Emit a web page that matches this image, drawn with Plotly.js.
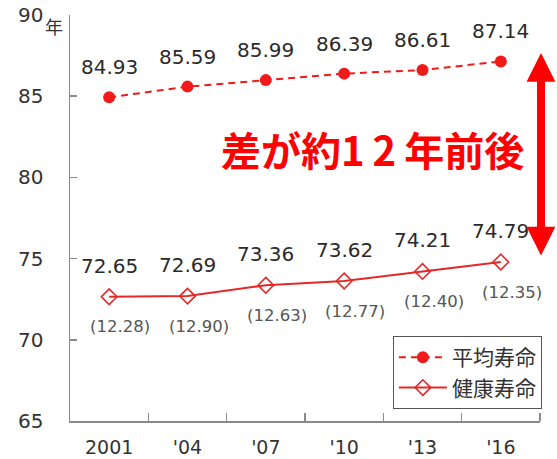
<!DOCTYPE html>
<html>
<head>
<meta charset="utf-8">
<script src="https://cdn.plot.ly/plotly-3.0.1.min.js"></script>
<style>html,body{margin:0;padding:0;background:#fff;}#chart{width:557px;height:459px;}</style>
</head>
<body>
<div id="chart"></div>
<script>
const years = ['2001', "'04", "'07", "'10", "'13", "'16"];
const averageLife = [84.93, 85.59, 85.99, 86.39, 86.61, 87.14];
const healthyLife = [72.65, 72.69, 73.36, 73.62, 74.21, 74.79];
const gapYears = [12.28, 12.90, 12.63, 12.77, 12.40, 12.35];
const seriesNames = ['平均寿命', '健康寿命'];
const yTicks = [65, 70, 75, 80, 85, 90];

const RED = '#f01a1a';
const numFont = 'DejaVu Sans, Verdana, sans-serif';
const cjkFont = 'Noto Sans CJK JP, sans-serif';

const xIdx = years.map((_, i) => i);
const boundaries = years.map((_, i) => i + 0.5);

const traces = [
  {
    x: xIdx, y: averageLife, name: seriesNames[0], type: 'scatter', mode: 'lines+markers',
    line: {color: RED, width: 2, dash: '7px,5px'},
    marker: {symbol: 'circle', size: 12, color: RED}
  },
  {
    x: xIdx, y: healthyLife, name: seriesNames[1], type: 'scatter', mode: 'lines+markers',
    line: {color: '#e42828', width: 2},
    marker: {symbol: 'diamond-open', size: 12, color: '#e42828', line: {width: 1.6}}
  }
];

const annotations = [];
xIdx.forEach((xi, i) => {
  annotations.push({x: xi, y: averageLife[i], xref: 'x', yref: 'y', text: averageLife[i].toFixed(2),
    showarrow: false, yshift: 30, font: {family: numFont, size: 20, color: '#2a2a2a'}});
  annotations.push({x: xi, y: healthyLife[i], xref: 'x', yref: 'y', text: healthyLife[i].toFixed(2),
    showarrow: false, yshift: 31, font: {family: numFont, size: 20, color: '#2a2a2a'}});
  annotations.push({x: xi, y: healthyLife[i], xref: 'x', yref: 'y', text: '(' + gapYears[i].toFixed(2) + ')',
    showarrow: false, yshift: -30, xshift: 11, font: {family: numFont, size: 16.5, color: '#555'}});
});
annotations.push({xref: 'paper', yref: 'paper', x: -0.034, y: 0.972, xanchor: 'center', yanchor: 'middle',
  text: '年', showarrow: false, font: {family: cjkFont, size: 18, color: '#333'}});
annotations.push({xref: 'paper', yref: 'paper', x: 0.6436, y: 0.67, xanchor: 'center', yanchor: 'middle',
  text: '差が約<span style="letter-spacing:8px">12</span>年前後', showarrow: false,
  font: {family: cjkFont, size: 40, color: '#ff0000', weight: 'bold'}});
annotations.push({xref: 'paper', yref: 'paper', x: 1.0021, y: 0.9064, axref: 'pixel', ayref: 'pixel', ax: 0, ay: 204,
  text: '', showarrow: true, arrowside: 'end+start', arrowhead: 2, startarrowhead: 2,
  arrowsize: 0.72, startarrowsize: 0.72, arrowwidth: 8, arrowcolor: '#ff0000', standoff: 0, startstandoff: 0});

const layout = {
  width: 557, height: 459,
  margin: {l: 70, r: 17, t: 15, b: 38},
  paper_bgcolor: '#fff', plot_bgcolor: '#fff',
  showlegend: true,
  legend: {x: 0.687, y: 0.209, xanchor: 'left', yanchor: 'top', bordercolor: '#555', borderwidth: 1,
    bgcolor: '#fff', font: {family: cjkFont, size: 21, color: '#333'}, tracegroupgap: 0, itemwidth: 48},
  xaxis: {range: [-0.5, 5.5], tickvals: xIdx, ticktext: years,
    showline: true, linecolor: '#8a8a8a', linewidth: 1.5, showgrid: false, zeroline: false,
    ticks: '', ticklabelstandoff: 9, tickfont: {family: numFont, size: 19, color: '#333'},
    minor: {tickmode: 'array', tickvals: boundaries, ticks: 'inside', ticklen: 8, tickcolor: '#8a8a8a', tickwidth: 1.5, showgrid: false},
    fixedrange: true},
  yaxis: {range: [65, 90], tickvals: yTicks, ticktext: yTicks.map(String),
    showline: true, linecolor: '#8a8a8a', linewidth: 1.5, showgrid: false, zeroline: false,
    ticks: 'inside', ticklen: 7, tickcolor: '#8a8a8a', tickwidth: 1.5,
    ticklabelstandoff: 21, tickfont: {family: numFont, size: 20, color: '#333'}, fixedrange: true},
  annotations: annotations
};

Plotly.newPlot('chart', traces, layout, {staticPlot: true, displayModeBar: false});
</script>
</body>
</html>
